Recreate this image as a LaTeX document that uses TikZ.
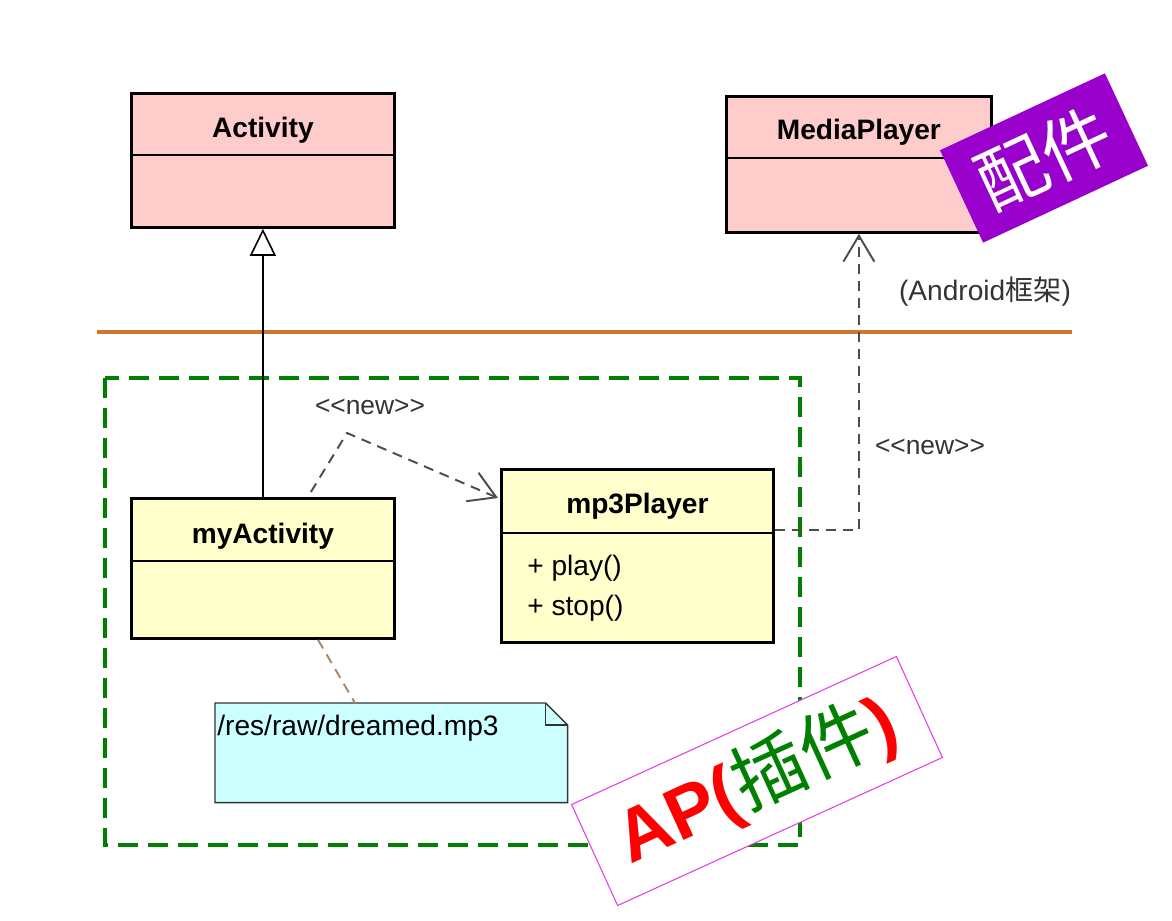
\documentclass[tikz,border=0pt]{standalone}
\usepackage{fontspec}
\setmainfont{Liberation Sans}
\newfontfamily\cjk{Noto Sans CJK SC}
\usetikzlibrary{arrows.meta,calc,positioning}
\definecolor{pinkfill}{RGB}{255,204,204}
\definecolor{yellowfill}{RGB}{255,255,204}
\definecolor{notefill}{RGB}{204,255,255}
\definecolor{boxgreen}{RGB}{0,128,0}
\definecolor{layerline}{RGB}{204,119,51}
\definecolor{notelink}{RGB}{170,136,102}
\definecolor{badgepurple}{RGB}{153,0,204}
\definecolor{apred}{RGB}{255,0,0}
\definecolor{apframe}{RGB}{230,60,230}
\tikzset{
	classbox/.style={draw=black, line width=1.6pt, inner sep=0pt, anchor=north west},
	classname/.style={font=\fontsize{16}{19}\selectfont\bfseries},
	divider/.style={line width=0.8pt},
	itemtext/.style={font=\fontsize{16}{19}\selectfont, anchor=west, inner sep=0pt},
	stereo/.style={font=\fontsize{15}{18}\selectfont, text=black!80},
	newlink/.style={line width=1.1pt, color=black!70, dash pattern=on 0.2cm off 0.14cm},
	vtip/.style={-{Straight Barb[length=0.52cm, width=0.62cm]}}
}

\begin{document}
\begin{tikzpicture}[x=0.02cm, y=-0.02cm]
	%%%%% START %%%%%
	\useasboundingbox (0,0) rectangle (1172,920);

	% Android framework classes
	\node[classbox, fill=pinkfill, minimum width=5.26cm, minimum height=2.68cm] (activity) at (130,92) {};
	\node[classname] (activitytitle) at ($(activity.north)+(0,38)$) {Activity};
	\draw[divider] ($(activity.north west)+(0,63)$) -- ($(activity.north east)+(0,63)$);

	\node[classbox, fill=pinkfill, minimum width=5.3cm, minimum height=2.72cm] (mediaplayer) at (725,95) {};
	\node[classname] (mediaplayertitle) at ($(mediaplayer.north)+(0,37)$) {MediaPlayer};
	\draw[divider] ($(mediaplayer.north west)+(0,63)$) -- ($(mediaplayer.north east)+(0,63)$);

	% layer border
	\draw[line width=1.8pt, color=layerline] (97,332) -- (1072,332);
	\node[stereo, font=\fontsize{16}{19}\selectfont] (framework) at (985,292) {(Android{\cjk 框架})};

	% AP box
	\draw[line width=2.3pt, color=boxgreen, dash pattern=on 0.4cm off 0.2cm] (105,378) rectangle (800,845);

	\node[classbox, fill=yellowfill, minimum width=5.26cm, minimum height=2.8cm] (myactivity) at (130,497) {};
	\node[classname] (myactivitytitle) at ($(myactivity.north)+(0,39)$) {myActivity};
	\draw[divider] ($(myactivity.north west)+(0,64)$) -- ($(myactivity.north east)+(0,64)$);

	\node[classbox, fill=yellowfill, minimum width=5.44cm, minimum height=3.46cm] (mp3player) at (500,468) {};
	\node[classname] (mp3playertitle) at ($(mp3player.north)+(0,38)$) {mp3Player};
	\draw[divider] ($(mp3player.north west)+(0,65)$) -- ($(mp3player.north east)+(0,65)$);
	\node[itemtext] (play) at ($(mp3player.north west)+(27,100)$) {+ play()};
	\node[itemtext] (stop) at ($(mp3player.north west)+(27,140)$) {+ stop()};

	% note
	\node[inner sep=0pt, anchor=north west, minimum width=7.04cm, minimum height=1.98cm] (note) at (215,703) {};
	\draw[line width=0.8pt, color=black!80, fill=notefill] (note.north west) -- ($(note.north east)+(-22,0)$) -- ($(note.north east)+(0,22)$) -- (note.south east) -- (note.south west) -- cycle;
	\draw[line width=0.8pt, color=black!80] ($(note.north east)+(-22,0)$) -- ($(note.north east)+(-22,22)$) -- ($(note.north east)+(0,22)$);
	\node[itemtext, anchor=north west] (notetext) at ($(note.north west)+(2,12)$) {/res/raw/dreamed.mp3};

	% connectors
	\draw[line width=0.9pt, -{Triangle[open, length=0.54cm, width=0.52cm]}] (myactivity.north) -- (activity.south);
	\coordinate (newbend) at (347,433);
	\draw[newlink, vtip] ($(myactivity.north)+(48,-5)$) -- (newbend) -- ($(mp3player.north west)+(-2,30)$);
	\node[stereo] (newlabel) at (370,407) {<{}<new>{}>};
	\draw[newlink, vtip] ($(mp3player.north east)+(0,62)$) -| (mediaplayer.south);
	\node[stereo] (newlabel2) at (930,447) {<{}<new>{}>};
	\draw[line width=1.1pt, color=notelink, dash pattern=on 0.2cm off 0.14cm] ($(myactivity.south west)+(188,0)$) -- ($(note.north west)+(140,0)$);

	% badges
	\node[rotate=25, fill=badgepurple, text=white, minimum width=3.64cm, minimum height=2.04cm, font=\cjk\fontsize{40}{42}\selectfont] (peijian) at (1044,158) {配件};
	\node[rotate=24.5, fill=white, draw=apframe, line width=0.6pt, minimum width=7.14cm, minimum height=2.22cm, font=\fontsize{42}{44}\selectfont\bfseries] (apbadge) at (757,781) {\color{apred}AP(\color{boxgreen}{\cjk\mdseries 插件}\color{apred})};

	%%%%% END %%%%%
\end{tikzpicture}
\end{document}
